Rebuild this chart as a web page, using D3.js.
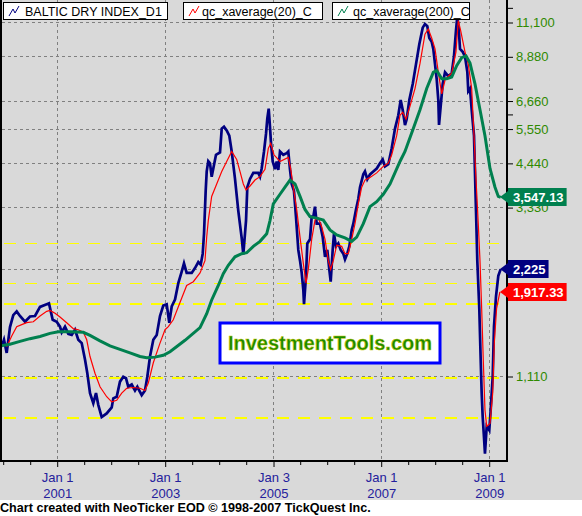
<!DOCTYPE html>
<html><head><meta charset="utf-8">
<script src="https://cdn.jsdelivr.net/npm/d3@7"></script>
<style>
body{margin:0;background:#fff}
svg{display:block}
text{font-family:"Liberation Sans",Arial,sans-serif}
</style>
</head><body>
<svg id="c" width="582" height="516"></svg>
<script>
// ---------- DATA ----------
// [decimal year, value]
const bdi = [
[1999.981,1343],[2000.024,1405],[2000.074,1290],[2000.135,1526],[2000.196,1650],[2000.259,1690],[2000.320,1640],[2000.413,1580],[2000.506,1635],[2000.598,1640],[2000.691,1740],[2000.815,1770],[2000.857,1780],[2000.926,1600],[2001.000,1580],[2001.061,1530],[2001.093,1475],[2001.154,1530],[2001.215,1460],[2001.278,1450],[2001.339,1500],[2001.400,1405],[2001.463,1375],[2001.524,1235],[2001.567,1130],[2001.617,993],[2001.678,930],[2001.728,993],[2001.770,920],[2001.833,850],[2001.926,870],[2002.019,905],[2002.048,960],[2002.111,970],[2002.172,1070],[2002.233,1105],[2002.283,1095],[2002.326,1035],[2002.389,1050],[2002.450,1010],[2002.493,1035],[2002.574,980],[2002.635,1010],[2002.678,1105],[2002.728,1260],[2002.789,1405],[2002.852,1450],[2002.913,1640],[2002.974,1755],[2003.037,1770],[2003.085,1570],[2003.130,1745],[2003.191,1825],[2003.252,2030],[2003.315,2190],[2003.357,2310],[2003.407,2170],[2003.500,2170],[2003.561,2240],[2003.622,2330],[2003.667,2290],[2003.704,2460],[2003.728,2800],[2003.759,3700],[2003.778,4200],[2003.807,4490],[2003.839,4430],[2003.870,4055],[2003.900,4280],[2003.950,4680],[2004.024,4750],[2004.056,5550],[2004.098,5620],[2004.148,5480],[2004.196,5300],[2004.241,4780],[2004.302,4000],[2004.363,3250],[2004.426,2720],[2004.456,2450],[2004.506,3050],[2004.530,3790],[2004.580,4000],[2004.641,4160],[2004.733,4160],[2004.765,4060],[2004.796,4280],[2004.839,4780],[2004.876,5360],[2004.900,5920],[2004.926,6320],[2004.950,5600],[2004.969,5040],[2005.000,4480],[2005.043,4260],[2005.074,4480],[2005.104,4240],[2005.135,4780],[2005.196,4680],[2005.259,4730],[2005.289,4780],[2005.320,4260],[2005.352,3870],[2005.394,3700],[2005.431,3130],[2005.474,2520],[2005.506,2350],[2005.537,2170],[2005.567,1945],[2005.580,1770],[2005.617,2130],[2005.641,2630],[2005.691,2700],[2005.722,3130],[2005.752,3130],[2005.783,3340],[2005.815,2990],[2005.876,2990],[2005.926,2740],[2005.969,2410],[2006.011,2520],[2006.048,2220],[2006.074,2050],[2006.111,2520],[2006.135,2800],[2006.172,2580],[2006.215,2630],[2006.259,2520],[2006.307,2460],[2006.339,2370],[2006.381,2460],[2006.419,2580],[2006.463,2870],[2006.493,2990],[2006.543,3280],[2006.585,3510],[2006.617,3790],[2006.678,4120],[2006.709,4200],[2006.752,3990],[2006.802,4120],[2006.863,4200],[2006.926,4280],[2006.987,4430],[2007.037,4540],[2007.080,4340],[2007.141,4400],[2007.204,4880],[2007.265,5550],[2007.326,6050],[2007.370,6680],[2007.407,6270],[2007.450,5680],[2007.481,5900],[2007.530,6680],[2007.593,7420],[2007.654,8440],[2007.715,9600],[2007.778,10700],[2007.820,10950],[2007.863,10800],[2007.900,10000],[2007.944,9760],[2007.974,9320],[2008.006,8440],[2008.037,7650],[2008.067,6680],[2008.080,5680],[2008.111,6420],[2008.148,7420],[2008.191,8000],[2008.252,7800],[2008.315,7950],[2008.357,8880],[2008.394,10500],[2008.419,11500],[2008.444,10700],[2008.469,9320],[2008.519,9140],[2008.561,8880],[2008.604,8030],[2008.622,7080],[2008.654,7200],[2008.685,6270],[2008.728,5300],[2008.765,3250],[2008.789,2350],[2008.826,1720],[2008.852,1230],[2008.870,993],[2008.889,850],[2008.913,745],[2008.931,670],[2008.963,800],[2009.011,780],[2009.037,890],[2009.074,1105],[2009.098,1530],[2009.135,1860],[2009.178,2130],[2009.222,2225]
];
const avg20 = [
[2000.074,1343],[2000.167,1440],[2000.259,1530],[2000.352,1550],[2000.444,1570],[2000.567,1580],[2000.691,1640],[2000.815,1690],[2000.876,1700],[2000.969,1670],[2001.061,1630],[2001.185,1570],[2001.307,1510],[2001.400,1500],[2001.493,1475],[2001.556,1405],[2001.617,1260],[2001.709,1130],[2001.802,1035],[2001.926,970],[2002.019,938],[2002.111,948],[2002.204,993],[2002.296,1025],[2002.419,1030],[2002.543,1025],[2002.635,1010],[2002.696,1060],[2002.789,1210],[2002.913,1375],[2003.006,1500],[2003.067,1530],[2003.159,1600],[2003.283,1790],[2003.407,2000],[2003.530,2050],[2003.654,2170],[2003.746,2350],[2003.778,2740],[2003.807,3050],[2003.870,3570],[2003.963,3870],[2004.056,4200],[2004.148,4480],[2004.241,4780],[2004.333,4540],[2004.394,4200],[2004.456,3870],[2004.506,3720],[2004.580,3820],[2004.672,3970],[2004.765,4060],[2004.857,4260],[2004.919,4880],[2004.963,5040],[2005.024,4680],[2005.135,4480],[2005.289,4600],[2005.333,4280],[2005.381,3790],[2005.444,3280],[2005.506,2740],[2005.567,2310],[2005.617,2030],[2005.659,2220],[2005.722,2700],[2005.783,3060],[2005.844,3100],[2005.907,2930],[2005.969,2700],[2006.030,2350],[2006.074,2220],[2006.122,2350],[2006.185,2600],[2006.278,2580],[2006.339,2460],[2006.400,2460],[2006.463,2700],[2006.524,2990],[2006.585,3400],[2006.648,3790],[2006.709,3970],[2006.802,4040],[2006.926,4160],[2007.048,4340],[2007.141,4430],[2007.204,4680],[2007.296,5300],[2007.357,6050],[2007.407,6170],[2007.469,5900],[2007.543,6420],[2007.635,7200],[2007.728,8480],[2007.820,10250],[2007.881,10600],[2007.944,10000],[2008.006,9320],[2008.067,8000],[2008.130,6950],[2008.191,7600],[2008.252,7800],[2008.315,7950],[2008.394,9140],[2008.437,11200],[2008.481,10500],[2008.561,9140],[2008.622,8440],[2008.685,7200],[2008.728,5300],[2008.765,4000],[2008.807,2990],[2008.839,2350],[2008.870,1720],[2008.900,1230],[2008.931,890],[2008.963,800],[2009.024,815],[2009.074,993],[2009.104,1375],[2009.146,1720],[2009.207,1917.33]
];
const avg200 = [
[1999.950,1349],[2000.135,1365],[2000.320,1390],[2000.506,1415],[2000.691,1435],[2000.876,1465],[2001.030,1480],[2001.246,1480],[2001.493,1475],[2001.617,1445],[2001.802,1395],[2001.987,1350],[2002.172,1320],[2002.357,1290],[2002.543,1260],[2002.667,1250],[2002.820,1255],[2002.974,1270],[2003.098,1300],[2003.376,1400],[2003.654,1520],[2003.778,1665],[2003.870,1820],[2003.993,2000],[2004.085,2160],[2004.178,2280],[2004.302,2410],[2004.426,2460],[2004.519,2475],[2004.641,2580],[2004.765,2665],[2004.889,2800],[2004.950,3050],[2005.011,3400],[2005.135,3620],[2005.228,3790],[2005.320,3970],[2005.413,3870],[2005.506,3570],[2005.598,3280],[2005.691,3130],[2005.815,3100],[2005.937,3060],[2006.061,2870],[2006.185,2780],[2006.339,2725],[2006.463,2665],[2006.556,2740],[2006.678,2990],[2006.802,3340],[2006.926,3450],[2007.048,3620],[2007.172,3870],[2007.357,4480],[2007.450,4780],[2007.604,5550],[2007.728,6270],[2007.852,7200],[2007.974,8000],[2008.037,8100],[2008.130,7670],[2008.222,7670],[2008.315,7760],[2008.407,8360],[2008.500,8800],[2008.580,8900],[2008.654,8500],[2008.746,7420],[2008.839,6270],[2008.931,5300],[2009.024,4280],[2009.117,3790],[2009.178,3570],[2009.222,3547.13]
];
const seriesNames = ["BALTIC DRY INDEX_D1","qc_xaverage(20)_C","qc_xaverage(200)_C"];
const lastValues = [2225, 1917.33, 3547.13];
const lastLabels = ["2,225", "1,917.33", "3,547.13"];
const yTickValues = [11100, 8880, 6660, 5550, 4440, 3330, 2220, 1110];
const yTickLabels = ["11,100", "8,880", "6,660", "5,550", "4,440", "3,330", "", "1,110"];
const yMinorTicks = [12210, 7215, 6105];
const supportLevels = [2640, 2030, 1775, 1095, 845];
const xMajorTicks = [2001, 2003, 2005.006, 2007, 2009];
const xMajorLabels = [["Jan 1","2001"],["Jan 1","2003"],["Jan 3","2005"],["Jan 1","2007"],["Jan 1","2009"]];
const xMinorTicks = [2000, 2000.5, 2001.5, 2002, 2002.5, 2003.5, 2004, 2004.5, 2005.5, 2006, 2006.5, 2007.5, 2008, 2008.5];
const watermark = "InvestmentTools.com";
const credit = "Chart created with NeoTicker EOD \u00A9 1998-2007 TickQuest Inc.";

// ---------- LAYOUT ----------
const W = 582, H = 516;
const plotR = 507, plotB = 461;
const colors = ["#000080", "#ff0000", "#00804f"];
const BG = "#d9d9d9";
const supportWidths = [1, 1, 2, 2, 2];

const svg = d3.select("#c");
svg.append("rect").attr("width", W).attr("height", 500).attr("fill", BG);
svg.append("rect").attr("y", 500).attr("width", W).attr("height", 16).attr("fill", "#fff");

const x = d3.scaleLinear().domain([1999.95, 2009.339]).range([0, plotR]);
const y = d3.scaleLog().domain([1110, 11100]).range([376, 22]);

// grid
const grid = svg.append("g").attr("stroke", "#808080").attr("stroke-width", 1).attr("stroke-dasharray", "3,3");
grid.selectAll("line.h").data(yTickValues).join("line")
  .attr("x1", 2).attr("x2", plotR - 1)
  .attr("y1", d => Math.round(y(d)) + 0.5).attr("y2", d => Math.round(y(d)) + 0.5);
grid.selectAll("line.v").data(xMajorTicks).join("line")
  .attr("y1", 0).attr("y2", plotB)
  .attr("x1", d => Math.round(x(d)) + 0.5).attr("x2", d => Math.round(x(d)) + 0.5);

// support lines
svg.append("g").selectAll("line").data(supportLevels).join("line")
  .attr("x1", 4).attr("x2", plotR - 1)
  .attr("y1", (d, i) => Math.round(y(d)) + (supportWidths[i] === 1 ? 0.5 : 0))
  .attr("y2", (d, i) => Math.round(y(d)) + (supportWidths[i] === 1 ? 0.5 : 0))
  .attr("stroke", "#ffff00").attr("stroke-width", (d, i) => supportWidths[i]).attr("stroke-dasharray", "12,9");

// series
svg.append("clipPath").attr("id", "clip").append("rect")
  .attr("x", 1).attr("y", 0).attr("width", plotR - 1).attr("height", plotB);
const line = d3.line().x(d => x(d[0])).y(d => y(d[1]));
const gS = svg.append("g").attr("clip-path", "url(#clip)").attr("fill", "none").attr("stroke-linejoin", "miter");
gS.append("path").datum(bdi).attr("d", line).attr("stroke", colors[0]).attr("stroke-width", 2.7);
gS.append("path").datum(avg20).attr("d", line).attr("stroke", colors[1]).attr("stroke-width", 1.2);
gS.append("path").datum(avg200).attr("d", line).attr("stroke", colors[2]).attr("stroke-width", 3);

// watermark
const wm = svg.append("g");
wm.append("rect").attr("x", 220).attr("y", 323).attr("width", 220).attr("height", 40)
  .attr("fill", "#fff").attr("stroke", "#0000ff").attr("stroke-width", 3);
wm.append("text").attr("x", 330).attr("y", 350).attr("text-anchor", "middle")
  .attr("font-size", 20).attr("font-weight", "bold")
  .attr("fill", "#1a8a00").attr("stroke", "#c8c800").attr("stroke-width", 0.5)
  .text(watermark);

// axes frame
const frame = svg.append("g").attr("stroke", "#000").attr("stroke-width", 2);
frame.append("line").attr("x1", 1).attr("x2", 1).attr("y1", 0).attr("y2", plotB + 1);
frame.append("line").attr("x1", 0).attr("x2", plotR + 1).attr("y1", plotB).attr("y2", plotB);
frame.append("line").attr("x1", plotR).attr("x2", plotR).attr("y1", 0).attr("y2", plotB + 1);

// right axis
const yAxis = d3.axisRight(y).tickValues(yTickValues.concat(yMinorTicks)).tickSize(6).tickPadding(3)
  .tickFormat(d => { const i = yTickValues.indexOf(d); return i >= 0 ? yTickLabels[i] : ""; });
const gy = svg.append("g").attr("transform", `translate(${plotR},0.5)`).call(yAxis);
gy.select(".domain").remove();
gy.selectAll(".tick line").attr("stroke", "#000").attr("stroke-width", 1);
gy.selectAll(".tick text").attr("fill", "#2f8a00").attr("font-size", 13)
  .attr("font-family", '"Liberation Sans",Arial,sans-serif');

// bottom axis minor
const gxm = svg.append("g").attr("transform", `translate(0.5,${plotB})`)
  .call(d3.axisBottom(x).tickValues(xMinorTicks).tickSize(4).tickFormat(""));
gxm.select(".domain").remove();
gxm.selectAll(".tick line").attr("stroke", "#000");
const gx = svg.append("g").attr("transform", `translate(0.5,${plotB})`)
  .call(d3.axisBottom(x).tickValues(xMajorTicks).tickSize(6).tickFormat((d, i) => xMajorLabels[i].join(" ")));
gx.select(".domain").remove();
gx.selectAll(".tick line").attr("stroke", "#000");
gx.selectAll(".tick text").each(function(d, i) {
  const t = d3.select(this);
  t.text(null).attr("dy", null).attr("y", null)
    .attr("fill", "#24209c").attr("font-size", 13).attr("font-family", '"Liberation Sans",Arial,sans-serif');
  t.append("tspan").attr("x", 0).attr("y", 21).text(xMajorLabels[i][0]);
  t.append("tspan").attr("x", 0).attr("y", 37).text(xMajorLabels[i][1]);
});

// last value tags
lastValues.forEach((v, i) => {
  const cy = Math.round(y(v));
  const g = svg.append("g");
  const t = g.append("text").attr("x", 513).attr("y", cy + 5).attr("fill", "#fff")
    .attr("font-size", 13).attr("font-weight", "bold").text(lastLabels[i]);
  const w = t.node().getComputedTextLength();
  g.insert("rect", "text").attr("x", 508).attr("y", cy - 9).attr("width", w + 8).attr("height", 18).attr("fill", colors[i]);
  g.insert("path", "text").attr("d", `M500,${cy}L508,${cy - 6}L508,${cy + 6}Z`).attr("fill", colors[i]);
});

// legend
const legX = [3, 183, 332], legW = [164, 139, 137], legTx = [25, 202, 353];
seriesNames.forEach((n, i) => {
  const g = svg.append("g");
  g.append("rect").attr("x", legX[i] + 0.5).attr("y", 2.5).attr("width", legW[i]).attr("height", 17)
    .attr("fill", "#fff").attr("stroke", "#000");
  const ix = legX[i] + 6;
  g.append("path").attr("d", `M${ix},16L${ix + 4},9L${ix + 6},13L${ix + 10},6`)
    .attr("fill", "none").attr("stroke", colors[i]).attr("stroke-width", 1);
  g.append("text").attr("x", legTx[i]).attr("y", 16).attr("font-size", 12.5).attr("fill", "#000").text(n);
});

// credit
svg.append("text").attr("x", 0).attr("y", 512).attr("font-size", 12.6).attr("font-weight", "bold")
  .attr("fill", "#000").text(credit);
</script>
</body></html>
